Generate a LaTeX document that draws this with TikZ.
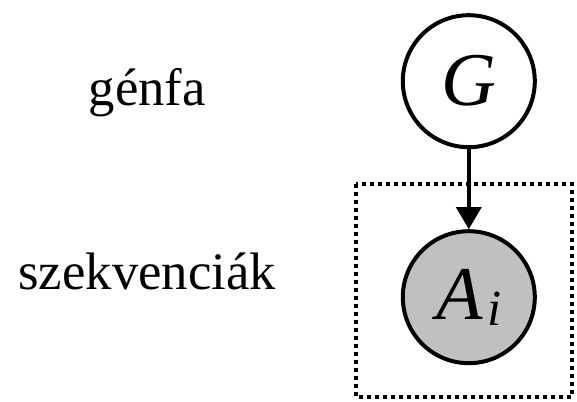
\documentclass[tikz,border=0pt]{standalone}
\usepackage{fontspec}
\setmainfont{Liberation Serif}
\usepackage{tikz}
\usetikzlibrary{positioning,arrows.meta}
\definecolor{nodeGray}{RGB}{192, 192, 192}

\begin{document}
\begin{tikzpicture}[
    var/.style={circle,draw=black,line width=0.1cm,minimum size=3.3cm,inner sep=0pt,
                font=\fontsize{54}{60}\selectfont},
    obs/.style={var,fill=nodeGray},
    plate/.style={draw=black,line width=0.1cm,dash pattern=on 0.1cm off 0.1cm},
    lbl/.style={font=\fontsize{37.5}{44}\selectfont,anchor=base}
]
    \useasboundingbox (0,0) rectangle (14.425,-10.05);

    % Model nodes
    \node[var] (tree) at (11.72,-2.03) {\textit{G}};
    \node[obs, below=2.0cm of tree] (seq)
        {\textit{A}\hspace{3pt}\raisebox{-4.5pt}{\fontsize{36}{40}\selectfont\textit{i}}};

    % Plate around the observed sequences
    \draw[plate] (8.9,-4.6) rectangle (14.3,-9.92);

    % Edge
    \draw[line width=0.1cm,-{Triangle[length=0.55cm,width=0.62cm]}] (tree) -- (seq);

    % Row labels
    \node[lbl] (treelbl) at (3.68,-2.63) {génfa};
    \node[lbl] (seqlbl) at (3.68,-7.25) {szekvenciák};
\end{tikzpicture}
\end{document}
